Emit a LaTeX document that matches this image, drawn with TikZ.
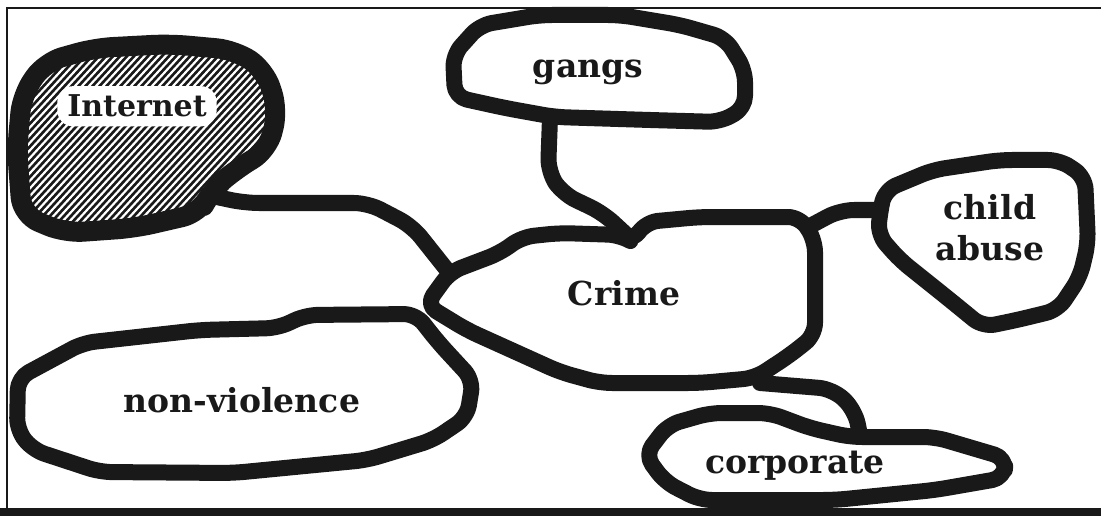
\documentclass[tikz,border=0pt]{standalone}
\usepackage{fontspec}
\setmainfont{DejaVu Serif}
\definecolor{ink}{gray}{0.1}
\begin{document}
\begin{tikzpicture}[x=1pt, y=-1pt,
    blob/.style={draw=ink, line width=16pt, line join=round, line cap=round, rounded corners=12pt},
    link/.style={draw=ink, line width=16pt, line join=round, line cap=round, rounded corners=14pt},
    lbl/.style={text=ink, font=\fontsize{33}{41}\selectfont\bfseries, align=center}]
    \useasboundingbox (0,0) rectangle (1101,516);
    % Frame
    \fill[white] (0,0) rectangle (1101,516);
    \draw[ink, line width=2pt] (7,510) -- (7,8) -- (1101,8);
    \fill[ink] (0,508) rectangle (1101,516);

    % Internet (hatched)
    \begin{scope}
        \clip[rounded corners=18pt] (22,95) -- (45,62) -- (95,48) -- (170,44) -- (235,50) -- (265,70) -- (278,110) -- (268,150) -- (235,170) -- (212,190) -- (200,213) -- (135,228) -- (65,233) -- (22,215) -- (17,150) -- cycle;
        \fill[ink] (0,30) rectangle (300,250);
        \foreach \k in {-260,-253,...,300} {
            \draw[white, line width=2.2pt] (\k,260) -- ++(230,-250);
        }
    \end{scope}
    \draw[blob, line width=20pt, rounded corners=18pt] (22,95) -- (45,62) -- (95,48) -- (170,44) -- (235,50) -- (265,70) -- (278,110) -- (268,150) -- (235,170) -- (212,190) -- (200,213) -- (135,228) -- (65,233) -- (22,215) -- (17,150) -- cycle;

    % Crime
    \draw[blob] (426,305) -- (450,272) -- (500,253) -- (522,237) -- (560,233) -- (620,235) -- (632,242) -- (646,222) -- (700,217) -- (800,217) -- (815,240) -- (815,335) -- (790,355) -- (755,378) -- (700,383) -- (600,383) -- (560,372) -- (467,330) -- cycle;

    % gangs
    \draw[blob] (455,97) -- (453,55) -- (480,25) -- (540,15) -- (620,15) -- (680,25) -- (725,38) -- (745,70) -- (745,108) -- (720,122) -- (650,120) -- (555,117) -- (505,108) -- cycle;

    % child abuse
    \draw[blob] (880,212) -- (885,190) -- (933,170) -- (1000,160) -- (1060,160) -- (1085,177) -- (1088,243) -- (1080,277) -- (1058,310) -- (1017,320) -- (983,327) -- (950,300) -- (900,260) -- (878,235) -- cycle;

    % corporate
    \draw[blob] (645,455) -- (668,425) -- (710,413) -- (770,413) -- (810,428) -- (850,437) -- (935,437) -- (1006,458) -- (1004,478) -- (935,490) -- (835,500) -- (700,500) -- (665,482) -- cycle;

    % non-violence
    \draw[blob] (18,378) -- (83,343) -- (200,330) -- (278,328) -- (306,315) -- (416,314) -- (438,342) -- (473,380) -- (467,417) -- (433,440) -- (367,460) -- (233,473) -- (100,472) -- (33,450) -- (17,430) -- cycle;

    % Connection points
    \coordinate (net-out) at (212,196);
    \coordinate (crime-w) at (447,270);
    \coordinate (gangs-s) at (550,118);
    \coordinate (crime-n) at (630,238);
    \coordinate (crime-ne) at (812,225);
    \coordinate (child-w) at (880,210);
    \coordinate (crime-se) at (760,383);
    \coordinate (corp-n) at (860,435);

    % Connectors
    \draw[link] (net-out) -- (245,203) -- (368,203) -- (412,226) -- (crime-w);
    \draw[link] (gangs-s) -- (548,172) -- (563,194) -- (603,213) -- (crime-n);
    \draw[link] (crime-ne) -- (840,210) -- (child-w);
    \draw[link] (crime-se) -- (833,389) -- (855,410) -- (corp-n);

    % Labels
    \node[lbl, font=\fontsize{30}{36}\selectfont\bfseries, fill=white, rounded corners=16pt, inner xsep=10pt, inner ysep=9pt, anchor=base] (internet) at (137,117) {Internet};
    \node[lbl, anchor=base] (gangs) at (588,78) {gangs};
    \node[lbl, anchor=base] (crime) at (624,305) {Crime};
    \node[lbl] (child) at (990,228) {child\\abuse};
    \node[lbl, anchor=base] (nonviol) at (242,412) {non-violence};
    \node[lbl, anchor=base] (corp) at (795,473) {corporate};
\end{tikzpicture}
\end{document}
